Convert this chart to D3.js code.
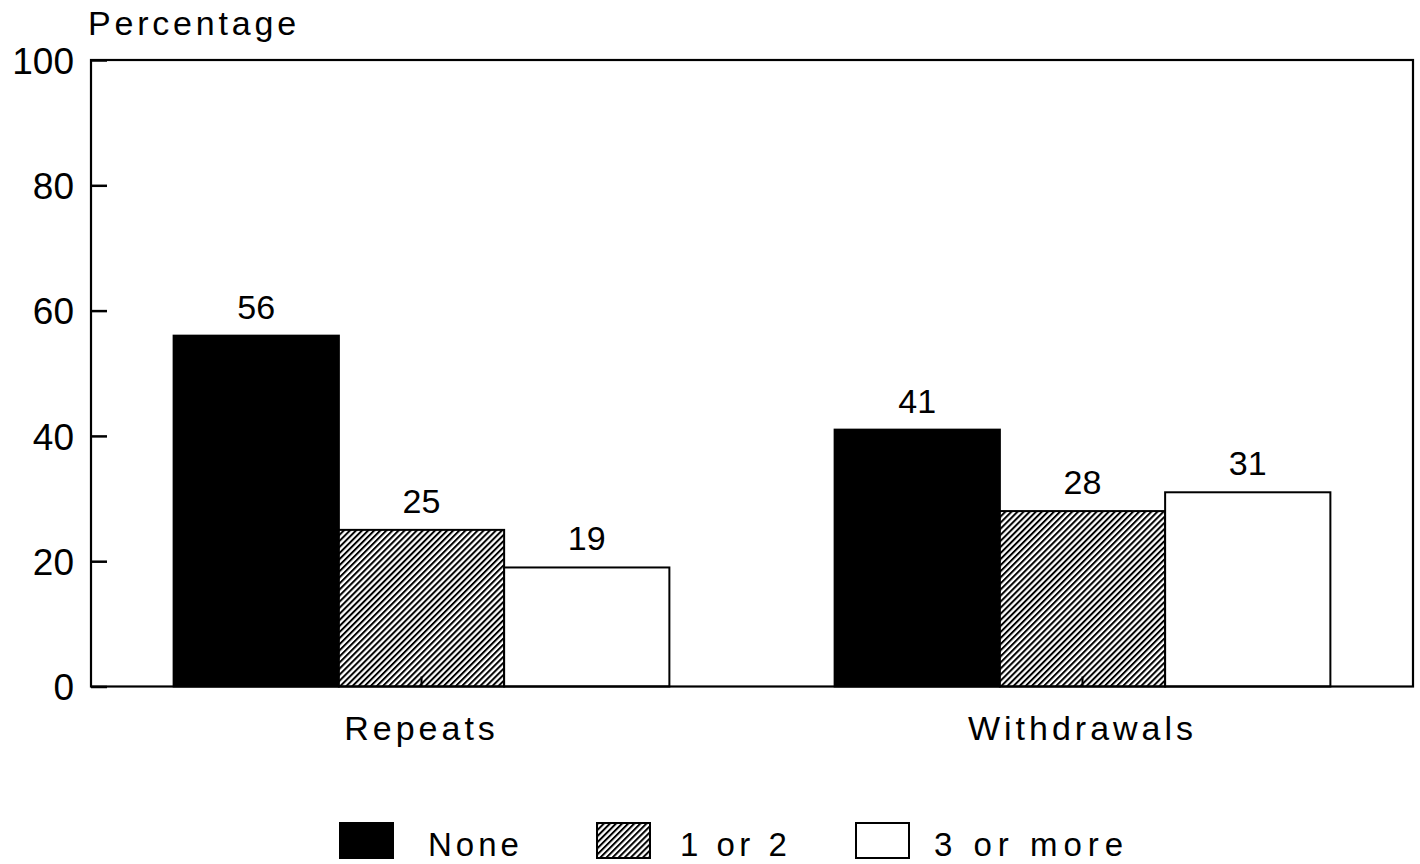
<!DOCTYPE html>
<html>
<head>
<meta charset="utf-8">
<script src="https://cdn.jsdelivr.net/npm/d3@7"></script>
<style>
  html, body { margin: 0; padding: 0; background: #fff; }
  svg { display: block; }
  text { font-family: "Liberation Sans", Arial, Helvetica, sans-serif; fill: #000; }
</style>
</head>
<body>
<svg id="chart" width="1420" height="864"></svg>
<script>
// Outcome groups along the x axis
const categories = ["Repeats", "Withdrawals"];
// Series (number of prior events) and their values in percent
const seriesNames = ["None", "1 or 2", "3 or more"];
const noneValues = [56, 41];
const oneOrTwoValues = [25, 28];
const threePlusValues = [19, 31];
// Y axis ticks
const yTicks = [0, 20, 40, 60, 80, 100];
const yLabel = "Percentage";

const seriesValues = [noneValues, oneOrTwoValues, threePlusValues];
const rows = categories.map((c, i) => ({
  category: c,
  values: seriesNames.map((s, j) => ({ series: s, value: seriesValues[j][i] }))
}));

const svg = d3.select("#chart");
const frame = { left: 91, top: 60, right: 1413, bottom: 686.5 };

// Hatch pattern for the "1 or 2" series
const defs = svg.append("defs");
const hatch = defs.append("pattern")
  .attr("id", "hatch")
  .attr("patternUnits", "userSpaceOnUse")
  .attr("width", 4.3)
  .attr("height", 10)
  .attr("patternTransform", "rotate(45)");
hatch.append("rect").attr("width", 4.3).attr("height", 10).attr("fill", "#fff");
hatch.append("line")
  .attr("x1", 1).attr("y1", 0).attr("x2", 1).attr("y2", 10)
  .attr("stroke", "#000").attr("stroke-width", 2);

const fills = d3.scaleOrdinal()
  .domain(seriesNames)
  .range(["#000", "url(#hatch)", "#fff"]);

const x0 = d3.scaleBand()
  .domain(categories)
  .range([frame.left, frame.right])
  .paddingInner(0.25)
  .paddingOuter(0.125);

const x1 = d3.scaleBand()
  .domain(seriesNames)
  .range([0, x0.bandwidth()]);

const y = d3.scaleLinear()
  .domain([0, 100])
  .range([frame.bottom, frame.top]);

// Bars
const groups = svg.append("g").selectAll("g")
  .data(rows)
  .join("g")
  .attr("transform", d => `translate(${x0(d.category)},0)`);

groups.selectAll("rect")
  .data(d => d.values)
  .join("rect")
  .attr("x", d => x1(d.series))
  .attr("y", d => y(d.value))
  .attr("width", x1.bandwidth())
  .attr("height", d => y(0) - y(d.value))
  .attr("fill", d => fills(d.series))
  .attr("stroke", "#000")
  .attr("stroke-width", 2);

// Value labels above bars
groups.selectAll("text.value")
  .data(d => d.values)
  .join("text")
  .attr("class", "value")
  .attr("x", d => x1(d.series) + x1.bandwidth() / 2)
  .attr("y", d => y(d.value) - 17)
  .attr("text-anchor", "middle")
  .attr("font-size", 34)
  .text(d => d.value);

// Plot frame
svg.append("rect")
  .attr("x", frame.left)
  .attr("y", frame.top)
  .attr("width", frame.right - frame.left)
  .attr("height", frame.bottom - frame.top)
  .attr("fill", "none")
  .attr("stroke", "#000")
  .attr("stroke-width", 2.2);

// Y axis: inward ticks, labels to the left
const yAxis = d3.axisLeft(y)
  .tickValues(yTicks)
  .tickSize(-16)
  .tickPadding(17)
  .tickFormat(d3.format("d"));
const yg = svg.append("g")
  .attr("transform", `translate(${frame.left},0)`)
  .call(yAxis);
yg.select(".domain").remove();
yg.selectAll(".tick line").attr("stroke", "#000").attr("stroke-width", 2.5);
yg.selectAll(".tick text")
  .attr("font-size", 37)
  .attr("font-family", "Liberation Sans, Arial, sans-serif")
  .attr("fill", "#000")
  .attr("dy", "0.36em");

// X axis: short inward ticks at group centres, category names below
const xAxis = d3.axisBottom(x0)
  .tickSize(-10)
  .tickPadding(28);
const xg = svg.append("g")
  .attr("transform", `translate(0,${frame.bottom})`)
  .call(xAxis);
xg.select(".domain").remove();
xg.selectAll(".tick line").attr("stroke", "#000").attr("stroke-width", 2);
xg.selectAll(".tick text")
  .attr("font-size", 34)
  .attr("font-family", "Liberation Sans, Arial, sans-serif")
  .attr("fill", "#000")
  .attr("letter-spacing", 4)
  .attr("dy", "0.75em");

// Y axis title
svg.append("text")
  .attr("x", 88)
  .attr("y", 35)
  .attr("font-size", 34)
  .attr("letter-spacing", 3.8)
  .text(yLabel);

// Legend
const legendX = [340, 597, 856];
const legend = svg.append("g").selectAll("g")
  .data(seriesNames)
  .join("g")
  .attr("transform", (d, i) => `translate(${legendX[i]},823)`);
legend.append("rect")
  .attr("width", 53)
  .attr("height", 35)
  .attr("fill", d => fills(d))
  .attr("stroke", "#000")
  .attr("stroke-width", 2);
legend.append("text")
  .attr("x", (d, i) => [88, 83, 78][i])
  .attr("y", 33)
  .attr("font-size", 33)
  .attr("letter-spacing", (d, i) => [4, 4.5, 6][i])
  .text(d => d);
</script>
</body>
</html>
